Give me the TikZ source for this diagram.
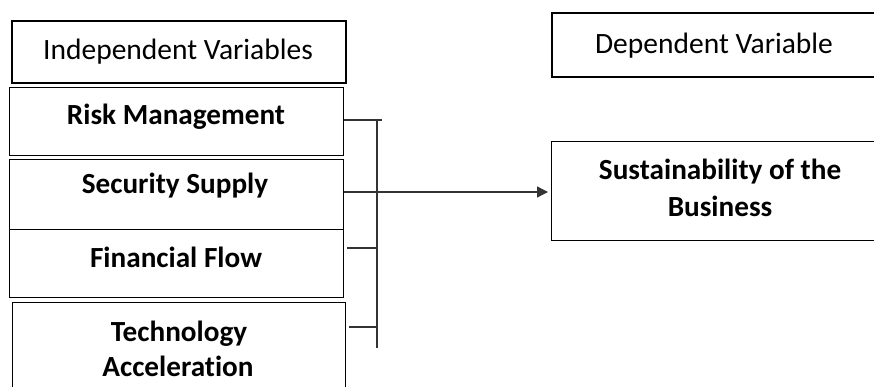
\documentclass[tikz,border=0pt]{standalone}
\usepackage{fontspec}
\setmainfont{Carlito}[Ligatures={NoCommon}]
\usetikzlibrary{arrows.meta,calc}
\begin{document}
\begin{tikzpicture}[x=1pt,y=-1pt,
  box/.style={draw=black,line width=1pt,inner sep=0pt,anchor=north west},
  hbox/.style={draw=black,line width=2pt,inner sep=0pt,anchor=north west},
  lbl/.style={anchor=base,inner sep=0pt,font=\fontsize{29.2}{35}\selectfont\bfseries},
  hlbl/.style={anchor=base,inner sep=0pt,font=\fontsize{29.5}{36}\selectfont},
  conn/.style={draw=black!80,line width=1.3pt}]
\useasboundingbox (0,0) rectangle (874,387);
\clip (0,0) rectangle (874,387);
% left column
\node[hbox,minimum width=334pt,minimum height=62pt] (ind) at (11,20) {};
\node[box,minimum width=334pt,minimum height=68pt] (risk) at (9,87) {};
\node[box,minimum width=334pt,minimum height=70pt] (sec) at (9,159) {};
\node[box,minimum width=334pt,minimum height=68pt] (fin) at (9,229) {};
\node[box,minimum width=333pt,minimum height=100pt] (tech) at (12,302) {};
% right column
\node[hbox,minimum width=326pt,minimum height=64pt] (dep) at (551,12) {};
\node[box,minimum width=338pt,minimum height=99pt] (sust) at (551,141) {};
% labels
\node[hlbl] (tind) at (178,59.3) {Independent Variables};
\node[lbl] (trisk) at (176,125) {Risk Management};
\node[lbl] (tsec) at (175,193.3) {Security Supply};
\node[lbl] (tfin) at (176,267.7) {Financial Flow};
\node[lbl] (ttech1) at (179,341.7) {Technology};
\node[lbl] (ttech2) at (178,376) {Acceleration};
\node[hlbl] (tdep) at (714,53.3) {Dependent Variable};
\node[lbl] (tsust1) at (720,180) {Sustainability of the};
\node[lbl] (tsust2) at (720,216.7) {Business};
% connectors
\coordinate (busTop) at (377,120);
\coordinate (busBot) at (377,348);
\coordinate (rEnd) at (382,120);
\draw[conn] (busTop) -- (busBot);
\draw[conn] (risk.north east |- rEnd) -- (rEnd);
\draw[conn] ($(fin.north east)+(3,19)$) -- ($(busTop)+(0,128)$);
\draw[conn] ($(tech.north east)+(3,25)$) -- ($(busTop)+(0,207)$);
\draw[conn,-{Triangle[length=11pt,width=11pt]}] ($(sec.north east)+(0,33)$) -- ($(sust.north west)+(-3,51)$);
\end{tikzpicture}
\end{document}
